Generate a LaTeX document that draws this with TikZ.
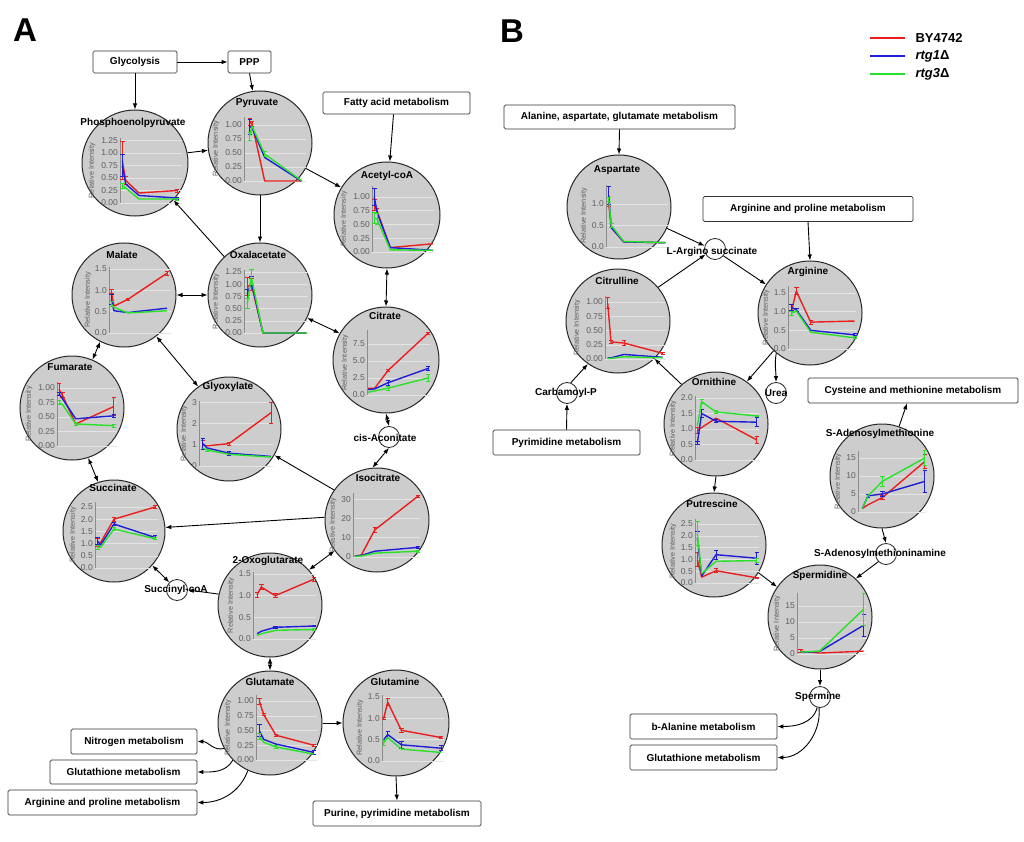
\documentclass[tikz,border=0pt]{standalone}
\usepackage{fontspec}
\setmainfont{Liberation Sans}
\usetikzlibrary{arrows.meta}
\definecolor{cgray}{RGB}{205,205,205}
\definecolor{cred}{RGB}{235,30,30}
\definecolor{cblue}{RGB}{30,30,215}
\definecolor{cgreen}{RGB}{40,225,40}
\definecolor{gridc}{RGB}{228,228,228}
\definecolor{tickc}{RGB}{95,95,95}
\newcommand{\eb}[4]{\draw[#1,line width=0.9pt] (#2-2.2,#3-#4) -- (#2+2.2,#3-#4) (#2,#3-#4) -- (#2,#3+#4) (#2-2.2,#3+#4) -- (#2+2.2,#3+#4);}
\newcommand{\ser}[2]{\draw[#1] plot coordinates {#2};}
% axis x, zero y, px per unit, ticks, top, grid length, label offset, body
\newcommand{\mchart}[8]{%
\begin{scope}[shift={(#1,#2)},yscale=-#3]
\foreach \tv/\tlab in {#4}{\draw[gridl] (0,\tv) -- (#6,\tv); \node[tickl] at (-1.5,\tv) {\tlab};}
\draw[axisl] (0,0) -- (0,#5);
\node[rilab] at (#7,#5/2) {Relative Intensity};
#8
\end{scope}}
\begin{document}
\begin{tikzpicture}[x=1pt,y=-1pt,
  met/.style={circle,draw=black!85,line width=1pt,fill=cgray,inner sep=0pt,minimum size=104pt},
  sm/.style={circle,draw=black!85,line width=0.8pt,fill=white,inner sep=0pt,minimum size=21pt},
  mlab/.style={font=\fontsize{10}{11}\selectfont\bfseries,inner sep=0.5pt},
  box/.style={draw=black!80,line width=0.7pt,rounded corners=1.5pt,fill=white,font=\fontsize{10}{11}\selectfont\bfseries,minimum height=22pt,inner sep=2pt},
  arr/.style={-{Latex[length=6pt,width=4.5pt]},line width=0.9pt},
  darr/.style={{Latex[length=6pt,width=4.5pt]}-{Latex[length=6pt,width=4.5pt]},line width=0.9pt},
  gridl/.style={draw=gridc,line width=0.5pt},
  axisl/.style={draw=black!45,line width=0.6pt},
  tickl/.style={font=\fontsize{8.5}{9}\selectfont,text=tickc,anchor=east,inner sep=0.5pt},
  rilab/.style={font=\fontsize{7.3}{8}\selectfont,text=tickc,rotate=90,inner sep=0pt},
  rl/.style={draw=cred,line width=1.4pt,line join=round},
  bl/.style={draw=cblue,line width=1.4pt,line join=round},
  gl/.style={draw=cgreen,line width=1.4pt,line join=round}]
\fill[white] (0,0) rectangle (1024,842);
\useasboundingbox (0,0) rectangle (1024,842);

% panel letters
\node[font=\fontsize{33}{36}\selectfont\bfseries] (lA) at (25,30) {A};
\node[font=\fontsize{33}{36}\selectfont\bfseries] (lB) at (512,31) {B};

% legend
\draw[draw=cred,line width=1.8pt] (870,38) coordinate (lg1a) -- (905,38) coordinate (lg1b);
\draw[draw=cblue,line width=1.8pt] (870,56) coordinate (lg2a) -- (905,56) coordinate (lg2b);
\draw[draw=cgreen,line width=1.8pt] (870,74) coordinate (lg3a) -- (905,74) coordinate (lg3b);
\node[anchor=west,font=\fontsize{13}{14}\selectfont\bfseries] (lt1) at (912,38) {BY4742};
\node[anchor=west,font=\fontsize{13}{14}\selectfont\bfseries] (lt2) at (912,56) {\textit{rtg1}Δ};
\node[anchor=west,font=\fontsize{13}{14}\selectfont\bfseries] (lt3) at (912,74) {\textit{rtg3}Δ};

% boxes
\node[box,minimum width=84pt] (glyc) at (135,62) {Glycolysis};
\node[box,minimum width=43pt] (ppp) at (249.5,62) {PPP};
\node[box,minimum width=147pt] (fatty) at (396.5,103) {Fatty acid metabolism};
\node[box,minimum width=126pt,minimum height=25pt] (nitro) at (134,741.5) {Nitrogen metabolism};
\node[box,minimum width=147pt,minimum height=24pt] (gluta) at (123.5,772) {Glutathione metabolism};
\node[box,minimum width=189pt,minimum height=25pt] (argA) at (102.5,802.5) {Arginine and proline metabolism};
\node[box,minimum width=168pt,minimum height=25pt] (purine) at (397,813.5) {Purine, pyrimidine metabolism};
\node[box,minimum width=231pt,minimum height=24pt] (ala) at (619.5,117) {Alanine, aspartate, glutamate metabolism};
\node[box,minimum width=210pt,minimum height=25pt] (argB) at (808,209) {Arginine and proline metabolism};
\node[box,minimum width=147pt,minimum height=25pt] (pyrim) at (566.5,442.5) {Pyrimidine metabolism};
\node[box,minimum width=210pt,minimum height=25pt] (cys) at (913,390.5) {Cysteine and methionine metabolism};
\node[box,minimum width=147pt,minimum height=25pt] (bala) at (703.5,726.5) {b-Alanine metabolism};
\node[box,minimum width=147pt,minimum height=25pt] (glutB) at (703.5,757.5) {Glutathione metabolism};

% metabolite circles
\node[met,minimum size=106pt] (pep) at (135,163) {};
\node[met] (pyr) at (260,143) {};
\node[met,minimum size=106pt] (acoa) at (387,215) {};
\node[met] (mal) at (124,295) {};
\node[met] (oxa) at (260,295) {};
\node[met,minimum size=106pt] (cit) at (386,360) {};
\node[met] (fum) at (72,408) {};
\node[met] (glyox) at (229,429) {};
\node[met,minimum size=102pt] (succ) at (114,531) {};
\node[met] (iso) at (377,520) {};
\node[met] (oxo) at (270,605) {};
\node[met] (glu) at (270,723) {};
\node[met,minimum size=106pt] (gln) at (396,723) {};
\node[met] (asp) at (619,207) {};
\node[met] (citr) at (618,321) {};
\node[met] (arg) at (810,313) {};
\node[met] (orn) at (716,424) {};
\node[met] (putr) at (714,545) {};
\node[met] (sam) at (882,476) {};
\node[met] (sperd) at (820,617) {};

% small circles
\node[sm] (cisaco) at (389,437) {};
\node[sm] (succoa) at (177,590) {};
\node[sm] (largi) at (715,249) {};
\node[sm] (carb) at (567,393) {};
\node[sm] (urea) at (776,393) {};
\node[sm] (sama) at (886,554) {};
\node[sm] (sperm) at (820,697) {};

% ---------- charts ----------
% PEP
\mchart{120}{203}{50}{0/0.00,0.25/0.25,0.5/0.50,0.75/0.75,1/1.00,1.25/1.25}{1.3}{62}{-28}{
\ser{rl}{(2.3,0.85) (5.7,0.45) (19,0.2) (57,0.25)}
\eb{rl}{2.3}{0.85}{0.38}\eb{rl}{5.7}{0.45}{0.08}\eb{rl}{57}{0.25}{0.03}
\ser{bl}{(2.3,0.75) (5.7,0.38) (19,0.15) (57,0.1)}
\eb{bl}{2.3}{0.75}{0.22}\eb{bl}{57}{0.1}{0.02}
\ser{gl}{(2.3,0.35) (5.7,0.3) (19,0.08) (57,0.08)}
\eb{gl}{2.3}{0.35}{0.05}\eb{gl}{57}{0.08}{0.02}}
% Pyruvate
\mchart{244}{181}{56}{0/0.00,0.25/0.25,0.5/0.50,0.75/0.75,1/1.00}{1.15}{62}{-28}{
\ser{rl}{(5.7,1.05) (8,1.02) (20.7,0) (57.3,0)}
\eb{rl}{5.7}{1.05}{0.06}\eb{rl}{8}{1.02}{0.05}
\ser{bl}{(5.7,0.97) (8,0.95) (20.7,0.42) (57.3,0)}
\eb{bl}{5.7}{0.97}{0.13}
\ser{gl}{(5.7,0.8) (8,0.98) (20.7,0.48) (58,0)}
\eb{gl}{5.7}{0.8}{0.07}\eb{gl}{20.7}{0.48}{0.04}}
% Acetyl-coA
\mchart{372}{252}{55}{0/0.00,0.25/0.25,0.5/0.50,0.75/0.75,1/1.00}{1.2}{62}{-28}{
\ser{rl}{(2.3,0.85) (5,0.75) (18.3,0.08) (61,0.15)}
\eb{rl}{2.3}{0.85}{0.1}\eb{rl}{5}{0.75}{0.05}
\ser{bl}{(2.3,1.0) (5,0.72) (18.3,0.08) (61,0.03)}
\eb{bl}{2.3}{1.0}{0.15}
\ser{gl}{(2.3,0.62) (5,0.6) (18.3,0.04) (61,0.03)}
\eb{gl}{2.3}{0.62}{0.1}\eb{gl}{5}{0.6}{0.1}}
% Malate
\mchart{109}{333}{42.7}{0/0.0,0.5/0.5,1/1.0,1.5/1.5}{1.55}{62}{-21}{
\ser{rl}{(2.3,0.97) (5,0.63) (19,0.79) (58,1.4)}
\eb{rl}{2.3}{0.97}{0.05}\eb{rl}{19}{0.79}{0.03}\eb{rl}{58}{1.4}{0.05}
\ser{bl}{(2.3,0.78) (5,0.52) (19,0.48) (58,0.58)}
\eb{bl}{2.3}{0.78}{0.12}
\ser{gl}{(2.3,0.68) (5,0.6) (19,0.47) (58,0.52)}
\eb{gl}{2.3}{0.68}{0.05}}
% Oxalacetate
\mchart{244}{333}{48.8}{0/0.00,0.25/0.25,0.5/0.50,0.75/0.75,1/1.00,1.25/1.25}{1.3}{64}{-28}{
\ser{rl}{(3.3,0.95) (7.3,1.0) (19,0) (62,0)}
\eb{rl}{3.3}{0.95}{0.18}\eb{rl}{7.3}{1.0}{0.12}
\ser{bl}{(3.3,0.8) (7.3,1.05) (19,0) (62,0)}
\eb{bl}{3.3}{0.8}{0.1}\eb{bl}{7.3}{1.05}{0.1}
\ser{gl}{(3.3,0.6) (7.3,1.15) (19,0) (63,0)}
\eb{gl}{3.3}{0.6}{0.1}\eb{gl}{7.3}{1.15}{0.15}}
% Citrate
\mchart{367}{395}{6.8}{0/0.0,2.5/2.5,5/5.0,7.5/7.5}{9.5}{63}{-22}{
\ser{rl}{(1,1.0) (7.7,1.0) (21,3.6) (61,9.07)}
\eb{rl}{21}{3.6}{0.2}\eb{rl}{61}{9.07}{0.2}
\ser{bl}{(1,0.8) (7.7,0.9) (21,1.8) (61,3.9)}
\eb{bl}{21}{1.8}{0.4}\eb{bl}{61}{3.9}{0.3}
\ser{gl}{(1,0.4) (7.7,0.6) (21,1.0) (61,2.5)}
\eb{gl}{21}{1.0}{0.3}\eb{gl}{61}{2.5}{0.5}}
% Fumarate
\mchart{57}{446}{58}{0/0.00,0.25/0.25,0.5/0.50,0.75/0.75,1/1.00}{1.1}{60}{-28}{
\ser{rl}{(2,0.98) (5.3,0.88) (18.7,0.38) (56.7,0.68)}
\eb{rl}{2}{0.98}{0.1}\eb{rl}{5.3}{0.88}{0.05}\eb{rl}{56.7}{0.68}{0.15}
\ser{bl}{(2,0.9) (5.3,0.82) (18.7,0.47) (56.7,0.52)}
\eb{bl}{2}{0.9}{0.03}\eb{bl}{56.7}{0.52}{0.03}
\ser{gl}{(2,0.75) (5.3,0.72) (18.7,0.38) (56.7,0.35)}
\eb{gl}{2}{0.75}{0.03}\eb{gl}{18.7}{0.38}{0.02}\eb{gl}{56.7}{0.35}{0.03}}
% Glyoxylate
\mchart{199}{466}{21.3}{0/0,1/1,2/2,3/3}{3.05}{74}{-15}{
\ser{rl}{(3.7,1.0) (8,0.95) (30,1.05) (72,2.5)}
\eb{rl}{3.7}{1.0}{0.2}\eb{rl}{30}{1.05}{0.07}\eb{rl}{72}{2.5}{0.5}
\ser{bl}{(3.7,1.05) (8,0.85) (30,0.6) (72,0.45)}
\eb{bl}{3.7}{1.05}{0.25}\eb{bl}{30}{0.6}{0.1}
\ser{gl}{(3.7,0.85) (8,0.75) (30,0.55) (72,0.42)}
\eb{gl}{8}{0.75}{0.05}}
% Succinate
\mchart{95}{568}{24.4}{0/0.0,0.5/0.5,1/1.0,1.5/1.5,2/2.0,2.5/2.5}{2.7}{63}{-22}{
\ser{rl}{(2.3,1.05) (5.7,1.05) (19,2.0) (60,2.5)}
\eb{rl}{2.3}{1.05}{0.15}\eb{rl}{19}{2.0}{0.08}\eb{rl}{60}{2.5}{0.07}
\ser{bl}{(2.3,1.1) (5.7,0.95) (19,1.8) (60,1.25)}
\eb{bl}{2.3}{1.1}{0.15}\eb{bl}{19}{1.8}{0.05}\eb{bl}{60}{1.25}{0.1}
\ser{gl}{(2.3,0.85) (5.7,0.85) (19,1.6) (60,1.2)}
\eb{gl}{2.3}{0.85}{0.08}\eb{gl}{19}{1.6}{0.08}\eb{gl}{60}{1.2}{0.05}}
% Isocitrate
\mchart{353}{557}{1.93}{0/0,10/10,20/20,30/30}{33}{67}{-20}{
\ser{rl}{(1.7,0.5) (8.3,1) (21.7,14) (65,31.5)}
\eb{rl}{21.7}{14}{1.5}\eb{rl}{65}{31.5}{0.5}
\ser{bl}{(1.7,0.3) (8.3,0.8) (21.7,3) (65,5)}
\eb{bl}{65}{5}{0.6}
\ser{gl}{(1.7,0.3) (8.3,0.5) (21.7,2) (65,3)}
\eb{gl}{65}{3}{0.6}}
% 2-Oxoglutarate
\mchart{253}{639}{43.3}{0/0.0,0.5/0.5,1/1.0,1.5/1.5}{1.55}{63}{-22}{
\ser{rl}{(4,1.02) (8.3,1.2) (22.3,1.0) (60.7,1.38)}
\eb{rl}{4}{1.02}{0.06}\eb{rl}{8.3}{1.2}{0.06}\eb{rl}{22.3}{1.0}{0.05}\eb{rl}{60.7}{1.38}{0.05}
\ser{bl}{(4,0.12) (8.3,0.18) (22.3,0.27) (60.7,0.3)}
\eb{bl}{22.3}{0.27}{0.03}\eb{bl}{60.7}{0.3}{0.02}
\ser{gl}{(4,0.08) (8.3,0.12) (22.3,0.2) (60.7,0.22)}
\eb{gl}{60.7}{0.22}{0.03}}
% Glutamate
\mchart{256}{760}{59}{0/0.00,0.25/0.25,0.5/0.50,0.75/0.75,1/1.00}{1.1}{61}{-28}{
\ser{rl}{(3.3,1.0) (7.7,0.77) (20,0.42) (57.7,0.25)}
\eb{rl}{3.3}{1.0}{0.05}\eb{rl}{7.7}{0.77}{0.02}\eb{rl}{20}{0.42}{0.02}\eb{rl}{57.7}{0.25}{0.02}
\ser{bl}{(3.3,0.5) (7.7,0.35) (20,0.27) (57.7,0.13)}
\eb{bl}{3.3}{0.5}{0.1}\eb{bl}{57.7}{0.13}{0.03}
\ser{gl}{(3.3,0.4) (7.7,0.3) (20,0.22) (57.7,0.1)}
\eb{gl}{3.3}{0.4}{0.05}\eb{gl}{20}{0.22}{0.02}}
% Glutamine
\mchart{382}{761}{42.7}{0/0.0,0.5/0.5,1/1.0,1.5/1.5}{1.55}{62}{-22}{
\ser{rl}{(1.7,1.0) (5.7,1.38) (19.3,0.72) (59,0.55)}
\eb{rl}{1.7}{1.0}{0.03}\eb{rl}{5.7}{1.38}{0.08}\eb{rl}{19.3}{0.72}{0.05}\eb{rl}{59}{0.55}{0.02}
\ser{bl}{(1.7,0.5) (5.7,0.62) (19.3,0.38) (59,0.3)}
\eb{bl}{5.7}{0.62}{0.08}\eb{bl}{19.3}{0.38}{0.08}\eb{bl}{59}{0.3}{0.06}
\ser{gl}{(1.7,0.42) (5.7,0.55) (19.3,0.28) (59,0.2)}
\eb{gl}{1.7}{0.42}{0.06}}
% Aspartate
\mchart{606}{247}{43}{0/0.0,0.5/0.5,1/1.0}{1.45}{62}{-22}{
\ser{rl}{(2.7,1.0) (5.3,0.45) (17.7,0.12) (59.3,0.1)}
\eb{rl}{2.7}{1.0}{0.05}
\ser{bl}{(2.7,1.2) (5.3,0.45) (17.7,0.12) (59.3,0.1)}
\eb{bl}{2.7}{1.2}{0.2}
\ser{gl}{(2.7,1.1) (5.3,0.5) (17.7,0.13) (59.3,0.1)}
\eb{gl}{2.7}{1.1}{0.05}\eb{gl}{5.3}{0.5}{0.05}}
% Citrulline
\mchart{605}{359}{57}{0/0.00,0.25/0.25,0.5/0.50,0.75/0.75,1/1.00}{1.1}{61}{-28}{
\ser{rl}{(2.7,0.98) (6,0.3) (19,0.28) (57.7,0.1)}
\eb{rl}{2.7}{0.98}{0.1}\eb{rl}{6}{0.3}{0.03}\eb{rl}{19}{0.28}{0.04}\eb{rl}{57.7}{0.1}{0.02}
\ser{bl}{(2.7,0.02) (6,0.02) (19,0.08) (57.7,0.03)}
\ser{gl}{(2.7,0.01) (6,0.01) (19,0.04) (57.7,0.02)}}
% Arginine
\mchart{788}{349}{37.3}{0/0.0,0.5/0.5,1/1.0,1.5/1.5}{1.7}{68}{-22}{
\ser{rl}{(3.3,1.0) (8.3,1.55) (22.7,0.72) (66.7,0.75)}
\eb{rl}{8.3}{1.55}{0.1}\eb{rl}{22.7}{0.72}{0.05}
\ser{bl}{(3.3,1.12) (8.3,1.05) (22.7,0.5) (66.7,0.38)}
\eb{bl}{3.3}{1.12}{0.08}\eb{bl}{8.3}{1.05}{0.05}\eb{bl}{66.7}{0.38}{0.03}
\ser{gl}{(3.3,0.95) (8.3,1.02) (22.7,0.45) (66.7,0.3)}
\eb{gl}{3.3}{0.95}{0.05}\eb{gl}{66.7}{0.3}{0.03}}
% Ornithine
\mchart{695}{460}{31}{0/0.0,0.5/0.5,1/1.0,1.5/1.5,2/2.0}{2.05}{64}{-22}{
\ser{rl}{(2.3,0.95) (6.7,1.05) (21,1.35) (61.7,0.65)}
\eb{rl}{2.3}{0.95}{0.1}\eb{rl}{61.7}{0.65}{0.1}
\ser{bl}{(2.3,0.55) (6.7,1.5) (21,1.25) (61.7,1.22)}
\eb{bl}{2.3}{0.55}{0.05}\eb{bl}{6.7}{1.5}{0.12}\eb{bl}{21}{1.25}{0.05}\eb{bl}{61.7}{1.22}{0.15}
\ser{gl}{(2.3,1.1) (6.7,1.88) (21,1.55) (61.7,1.42)}
\eb{gl}{6.7}{1.88}{0.06}\eb{gl}{21}{1.55}{0.05}\eb{gl}{61.7}{1.42}{0.03}}
% Putrescine
\mchart{695}{583}{23.6}{0/0.0,0.5/0.5,1/1.0,1.5/1.5,2/2.0,2.5/2.5}{2.7}{64}{-22}{
\ser{rl}{(2.3,1.0) (6.7,0.25) (21,0.52) (61.7,0.22)}
\eb{rl}{2.3}{1.0}{0.3}\eb{rl}{21}{0.52}{0.08}\eb{rl}{61.7}{0.22}{0.03}
\ser{bl}{(2.3,1.9) (6.7,0.3) (21,1.2) (61.7,1.05)}
\eb{bl}{2.3}{1.9}{0.3}\eb{bl}{21}{1.2}{0.2}\eb{bl}{61.7}{1.05}{0.25}
\ser{gl}{(2.3,2.1) (6.7,0.4) (21,0.92) (61.7,0.95)}
\eb{gl}{2.3}{2.1}{0.5}\eb{gl}{61.7}{0.95}{0.1}}
% S-Adenosylmethionine
\mchart{858}{512}{3.6}{0/0,5/5,10/10,15/15}{17}{68}{-20}{
\ser{rl}{(4.3,1) (10,2) (24.3,4) (66.7,14)}
\eb{rl}{24.3}{4}{0.5}\eb{rl}{66.7}{14}{2}
\ser{bl}{(4.3,1) (10,4.5) (24.3,5) (66.7,8.5)}
\eb{bl}{10}{4.5}{0.5}\eb{bl}{24.3}{5}{0.8}\eb{bl}{66.7}{8.5}{3}
\ser{gl}{(4.3,1) (10,4.5) (24.3,8.5) (66.7,15)}
\eb{gl}{24.3}{8.5}{1.5}\eb{gl}{66.7}{15}{2}}
% Spermidine
\mchart{797}{654}{3.2}{0/0,5/5,10/10,15/15}{19}{70}{-20}{
\ser{rl}{(3.3,1) (5.7,0.8) (22.7,0.3) (66.7,0.9)}
\eb{rl}{3.3}{1}{0.5}
\ser{bl}{(3.3,0.8) (5.7,0.5) (22.7,0.8) (66.7,9)}
\eb{bl}{66.7}{9}{3.5}
\ser{gl}{(3.3,0.8) (5.7,0.6) (22.7,0.9) (66.7,14)}
\eb{gl}{66.7}{14}{5}}

% ---------- connectors: panel A ----------
\draw[arr] (glyc.east) -- (ppp.west);
\draw[arr] (glyc.south) -- (pep.north);
\draw[arr] (ppp.south) -- (pyr.98);
\draw[arr] (pep.11) -- (pyr.188);
\draw[arr] (pyr.-29) -- (acoa.149);
\draw[arr] ([xshift=-3pt]fatty.south) -- (acoa.87);
\draw[arr] (pyr.south) -- (oxa.north);
\draw[arr] (oxa.133) -- (pep.-44);
\draw[darr] (mal.east) -- (oxa.west);
\draw[darr] (oxa.-26) -- (cit.150);
\draw[darr] (acoa.south) -- (cit.north);
\draw[darr] (cit.south) -- (cisaco.north);
\draw[darr] (cisaco.south) -- (iso.95);
\draw[arr] (iso.145) -- (glyox.-30);
\draw[arr] (iso.177) -- (succ.4);
\draw[darr] (iso.216) -- (oxo.42);
\draw[darr] (mal.-52) -- (glyox.126);
\draw[darr] (mal.243) -- (fum.67);
\draw[darr] (fum.-72) -- (succ.108);
\draw[darr] (succ.-42) -- (succoa.135);
\draw[arr] (oxo.168) -- (succoa.east);
\draw[darr] (oxo.south) -- (glu.north);
\draw[arr] (glu.east) -- (gln.west);
\draw[arr] (gln.south) -- (purine.north);
\draw[arr] (glu.209) to[out=195,in=0] (nitro.east);
\draw[arr] (glu.225) to[out=240,in=0] (gluta.east);
\draw[arr] (glu.245) to[out=250,in=0] (argA.east);

% ---------- connectors: panel B ----------
\draw[arr] (ala.south) -- (asp.north);
\draw[arr] (asp.-24) -- (largi.163);
\draw[arr] (citr.40) -- (largi.210);
\draw[arr] (largi.-39) -- (arg.147);
\draw[arr] (argB.south) -- (arg.north);
\draw[arr] (arg.226) -- (orn.54);
\draw[arr] (arg.230) to[out=-100,in=90] (urea.north);
\draw[arr] (orn.131) -- (citr.-46);
\draw[arr] (carb.70) -- (citr.235);
\draw[arr] (pyrim.north) -- (carb.south);
\draw[arr] (orn.south) -- (putr.north);
\draw[arr] (putr.-32) -- (sperd.145);
\draw[arr] (sam.71) -- ([xshift=-6pt]cys.south);
\draw[arr] (sam.south) -- (sama.north);
\draw[arr] (sama.225) -- (sperd.47);
\draw[arr] (sperd.south) -- (sperm.north);
\draw[arr] (sperm.255) to[out=255,in=0] (bala.east);
\draw[arr] (sperm.265) to[out=275,in=0] (glutB.east);

% ---------- labels ----------
\node[mlab] (pepL) at (133,123) {Phosphoenolpyruvate};
\node[mlab] (pyrL) at (257,103) {Pyruvate};
\node[mlab] (acoaL) at (387,176) {Acetyl-coA};
\node[mlab] (malL) at (122,255) {Malate};
\node[mlab] (oxaL) at (258,255) {Oxalacetate};
\node[mlab] (citL) at (385,316) {Citrate};
\node[mlab] (fumL) at (70,367) {Fumarate};
\node[mlab] (glyoxL) at (228,387) {Glyoxylate};
\node[mlab] (succL) at (113,488) {Succinate};
\node[mlab] (isoL) at (378,478) {Isocitrate};
\node[mlab] (oxoL) at (268,561) {2-Oxoglutarate};
\node[mlab] (gluL) at (270,682) {Glutamate};
\node[mlab] (glnL) at (395,682) {Glutamine};
\node[mlab] (aspL) at (617,170) {Aspartate};
\node[mlab] (citrL) at (617,281) {Citrulline};
\node[mlab] (argL) at (808,272) {Arginine};
\node[mlab] (ornL) at (714,382) {Ornithine};
\node[mlab] (putrL) at (712,504) {Putrescine};
\node[mlab] (samL) at (880,434) {S-Adenosylmethionine};
\node[mlab] (sperdL) at (820,576) {Spermidine};
\node[mlab] (cisacoL) at (385,438) {cis-Aconitate};
\node[mlab] (succoaL) at (176,590) {Succinyl-coA};
\node[mlab] (largiL) at (712,252) {L-Argino succinate};
\node[mlab] (carbL) at (566,393) {Carbamoyl-P};
\node[mlab] (ureaL) at (776,393) {Urea};
\node[mlab] (samaL) at (880,554) {S-Adenosylmethioninamine};
\node[mlab] (spermL) at (818,697) {Spermine};
\end{tikzpicture}
\end{document}
